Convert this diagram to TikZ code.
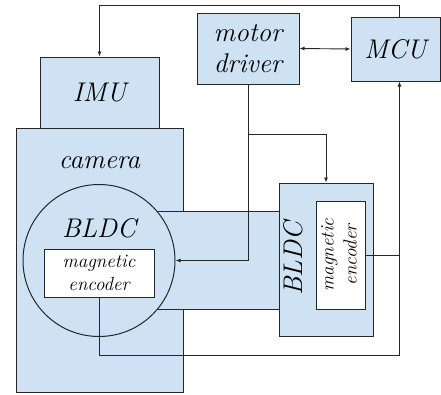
\documentclass[tikz,border=0pt]{standalone}
\usepackage{fontspec}
\usepackage{graphicx}
\usetikzlibrary{arrows.meta}

\definecolor{boxblue}{RGB}{207,226,243}
\definecolor{edge}{RGB}{38,38,38}

\begin{document}
\begin{tikzpicture}[
    x=1pt,y=-1pt,
    >={Latex[length=5pt,width=4pt]},
    block/.style={draw=edge,line width=1pt,fill=boxblue,inner sep=0pt,
      font=\fontsize{27}{31}\selectfont\itshape,align=center},
    encbox/.style={draw=edge,line width=1pt,fill=white,inner sep=0pt,
      font=\fontsize{19}{23}\selectfont\itshape,align=center},
    lbl/.style={inner sep=0pt,font=\fontsize{27}{31}\selectfont\itshape},
    wire/.style={draw=edge,line width=0.9pt}
  ]
  \useasboundingbox (0,0) rectangle (441,394);

  % camera body with IMU on top
  \node[block,minimum width=167pt,minimum height=264pt] (camera) at (99.5,260) {};
  \node[lbl,anchor=base] (cameralabel) at (99.5,168) {camera};
  \node[block,minimum width=119pt,minimum height=71pt] (imu) at (99.5,92.5) {IMU};

  % electronics
  \node[block,minimum width=102pt,minimum height=71pt] (driver) at (248,48.5) {motor\\driver};
  \node[block,minimum width=89pt,minimum height=64pt] (mcu) at (395.5,49) {MCU};

  % shaft between the two motors
  \fill[boxblue] (150,212) rectangle (279,309);

  % first motor
  \node[circle,draw=edge,line width=1pt,fill=boxblue,minimum size=152pt,inner sep=0pt]
    (bldcA) at (99,260.5) {};
  \node[lbl,anchor=base] (bldcAlabel) at (99,237) {BLDC};
  \node[encbox,minimum width=110pt,minimum height=48pt] (encA) at (99,273) {magnetic\\encoder};

  % second motor
  \node[block,minimum width=94pt,minimum height=153pt] (bldcB) at (326,259.5) {};
  \node[lbl,rotate=90] (bldcBlabel) at (293,259) {BLDC};
  \node[encbox,minimum width=49pt,minimum height=108pt] (encB) at (340.5,255)
    {\rotatebox{90}{\begin{tabular}{@{}c@{}}magnetic\\encoder\end{tabular}}};

  \draw[wire] (bldcA.40) -- (bldcA.40 -| bldcB.west);
  \draw[wire] (bldcA.-40) -- (bldcA.-40 -| bldcB.west);

  % signals
  \coordinate (split) at (248,134);
  \coordinate (merge) at (399.5,355);
  \draw[wire,->] ([xshift=4pt]mcu.north) -- ++(0,-11.5) -| (imu.north);
  \draw[wire,<->] (driver.east) -- (mcu.west);
  \draw[wire,->] (driver.south) |- (bldcA.east);
  \draw[wire,->] (split) -| (bldcB.north);
  \draw[wire,->] (encA.south) |- (merge) -- (merge |- mcu.south);
  \draw[wire] (encB.east) -| (merge);
\end{tikzpicture}
\end{document}
